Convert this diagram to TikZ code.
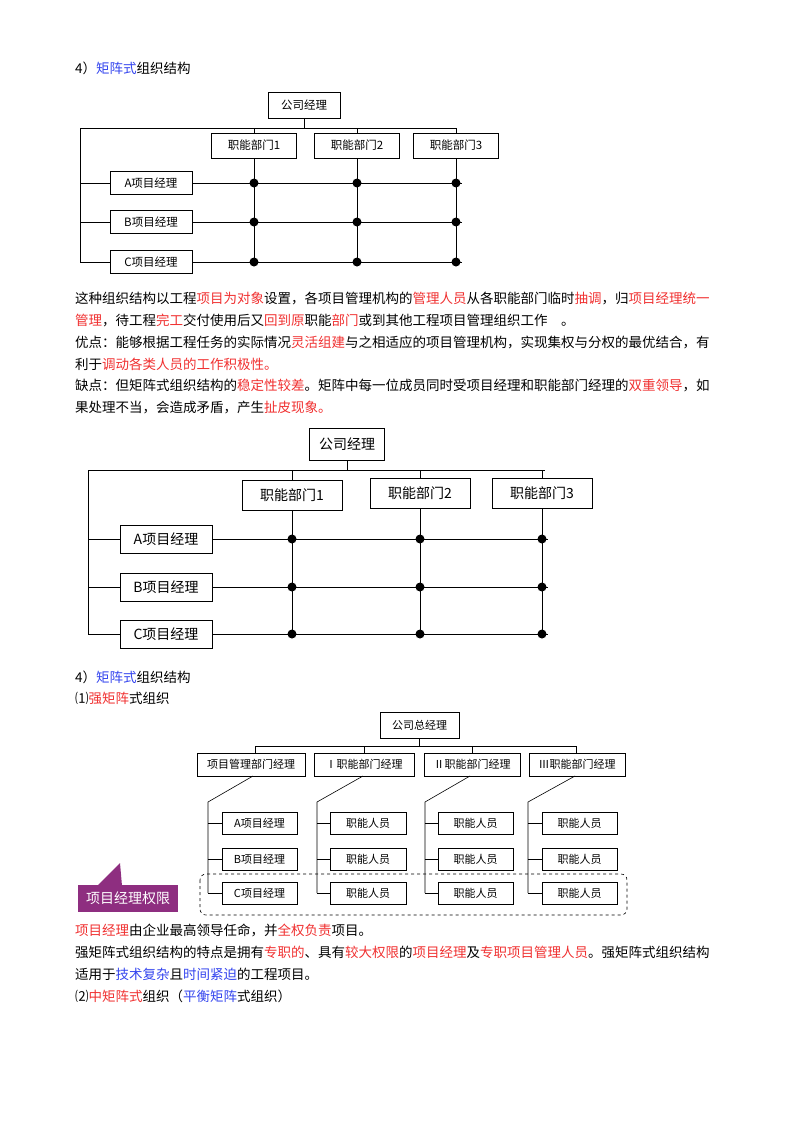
\documentclass[tikz,border=0pt]{standalone}
\usepackage{fontspec}
\setmainfont{Noto Sans CJK SC}
\definecolor{rd}{HTML}{F03030}
\definecolor{bl}{HTML}{3344EE}
\definecolor{pu}{HTML}{8E2E80}
\newcommand\rtx[1]{\textcolor{rd}{#1}}
\newcommand\btx[1]{\textcolor{bl}{#1}}
\begin{document}
\begin{tikzpicture}[x=1pt,y=-1pt,
  bx/.style={draw,line width=0.9pt,fill=white,inner sep=0pt},
  ln/.style={line width=0.9pt},
  tn/.style={line width=0.6pt},
  dt/.style={circle,fill=black,inner sep=0pt,minimum size=9pt},
  tx/.style={anchor=west,inner sep=0pt,font=\fontsize{13.5}{16}\selectfont},
  lb1/.style={font=\fontsize{11.5}{13}\selectfont},
  lb2/.style={font=\fontsize{14}{16}\selectfont},
  lb3/.style={font=\fontsize{11}{12}\selectfont}]
\useasboundingbox (0,0) rectangle (800,1132);
% ---- titles
\node[tx] (t1) at (75,68) {4）\btx{矩阵式}组织结构};
% ---- diagram 1
\node[bx,lb1,minimum width=72pt,minimum height=26pt] (g1) at (304,105) {公司经理};
\coordinate (h1l) at (80,128); \coordinate (h1r) at (456,128);
\draw[ln] (g1.south) -- (304,128);
\draw[ln] (h1l) -- (h1r);
\foreach \n/\x/\lab in {a/254/职能部门1,b/357/职能部门2,c/456/职能部门3}{
  \node[bx,lb1,minimum width=85pt,minimum height=25pt] (d1\n) at (\x,145.5) {\lab};
  \draw[ln] (\x,128) -- (d1\n.north);
  \draw[ln] (d1\n.south) -- (\x,264);
}
\draw[ln] (h1l) -- (80,262);
\foreach \n/\y/\lab in {a/183/A项目经理,b/222/B项目经理,c/262/C项目经理}{
  \node[bx,lb1,minimum width=82pt,minimum height=23pt] (p1\n) at (151,\y) {\lab};
  \draw[ln] (80,\y) -- (p1\n.west);
  \draw[ln] (p1\n.east) -- (462,\y);
  \foreach \x in {254,357,456} \node[dt] at (\x,\y) {};
}
% ---- paragraph
\node[tx] (l1) at (75,298) {这种组织结构以工程\rtx{项目为对象}设置，各项目管理机构的\rtx{管理人员}从各职能部门临时\rtx{抽调}，归\rtx{项目经理统一}};
\node[tx] (l2) at (75,320) {\rtx{管理}，待工程\rtx{完工}交付使用后又\rtx{回到原}职能\rtx{部门}或到其他工程项目管理组织工作\hspace{1em}。};
\node[tx] (l3) at (75,342) {优点：能够根据工程任务的实际情况\rtx{灵活组建}与之相适应的项目管理机构，实现集权与分权的最优结合，有};
\node[tx] (l4) at (75,364) {利于\rtx{调动各类人员的工作积极性。}};
\node[tx] (l5) at (75,386) {缺点：但矩阵式组织结构的\rtx{稳定性较差}。矩阵中每一位成员同时受项目经理和职能部门经理的\rtx{双重领导}，如};
\node[tx] (l6) at (75,408) {果处理不当，会造成矛盾，产生\rtx{扯皮现象。}};
% ---- diagram 2
\node[bx,lb2,minimum width=75pt,minimum height=32pt] (g2) at (347,444) {公司经理};
\coordinate (h2l) at (88,470); \coordinate (h2r) at (545,470);
\draw[ln] (g2.south) -- (347,470);
\draw[ln] (h2l) -- (h2r);
\foreach \n/\x/\y/\lab in {a/292/495/职能部门1,b/420/493/职能部门2,c/542/493/职能部门3}{
  \node[bx,lb2,minimum width=100pt,minimum height=30pt] (d2\n) at (\x,\y) {\lab};
  \draw[ln] (\x,470) -- (d2\n.north);
  \draw[ln] (d2\n.south) -- (\x,636);
}
\draw[ln] (h2l) -- (88,634);
\foreach \n/\y/\lab in {a/539/A项目经理,b/587/B项目经理,c/634/C项目经理}{
  \node[bx,lb2,minimum width=92pt,minimum height=28pt] (p2\n) at (166,\y) {\lab};
  \draw[ln] (88,\y) -- (p2\n.west);
  \draw[ln] (p2\n.east) -- (548,\y);
  \foreach \x in {292,420,542} \node[dt] at (\x,\y) {};
}
% ---- titles 2
\node[tx] (t2) at (75,677) {4）\btx{矩阵式}组织结构};
\node[tx] (t3) at (75,698) {⑴\rtx{强矩阵}式组织};
% ---- diagram 3
\node[bx,lb3,minimum width=79pt,minimum height=26pt,tn] (g3) at (419.5,725) {公司总经理};
\draw[tn] (g3.south) -- (419.5,746);
\draw[tn] (255,746) -- (576,746);
\foreach \n/\cx/\w/\tx/\lab/\dx/\vx in {a/251/108/255/项目管理部门经理/253/208, b/364/100/364/Ⅰ职能部门经理/363/317, c/472/96/472/Ⅱ职能部门经理/470/425, d/577/96/576/Ⅲ职能部门经理/575/528}{
  \node[bx,lb3,minimum width=\w pt,minimum height=23pt,tn] (d3\n) at (\cx,764.5) {\lab};
  \draw[tn] (\tx,746) -- (\tx,753);
  \draw[tn] (\dx,776) -- (\vx,802) -- (\vx,893);
}
\foreach \vx/\bl/\br/\la/\lb/\lc in {208/222/297/A项目经理/B项目经理/C项目经理, 317/330/406/职能人员/职能人员/职能人员, 425/438/513/职能人员/职能人员/职能人员, 528/542/617/职能人员/职能人员/职能人员}{
  \foreach \y/\lab in {823/\la,859/\lb,893/\lc}{
    \node[bx,lb3,minimum height=22pt,minimum width={\br-\bl},tn] at ({(\bl+\br)/2},\y) {\lab};
    \draw[tn] (\vx,\y) -- (\bl,\y);
  }
}
\draw[dashed,tn,rounded corners=6pt] (200,874) rectangle (627,915);
\fill[pu] (97,886) -- (120,863) -- (122,886) -- cycle;
\node[fill=pu,text=white,minimum width=100pt,minimum height=27pt,inner sep=0pt,font=\fontsize{14}{16}\selectfont] (pl) at (128,898.5) {项目经理权限};
% ---- paragraph 3
\node[tx] (m1) at (75,930) {\rtx{项目经理}由企业最高领导任命，并\rtx{全权负责}项目。};
\node[tx] (m2) at (75,952) {强矩阵式组织结构的特点是拥有\rtx{专职的}、具有\rtx{较大权限}的\rtx{项目经理}及\rtx{专职项目管理人员}。强矩阵式组织结构};
\node[tx] (m3) at (75,974) {适用于\btx{技术复杂}且\btx{时间紧迫}的工程项目。};
\node[tx] (m4) at (75,996) {⑵\rtx{中矩阵式}组织（\btx{平衡矩阵}式组织）};
\end{tikzpicture}
\end{document}
